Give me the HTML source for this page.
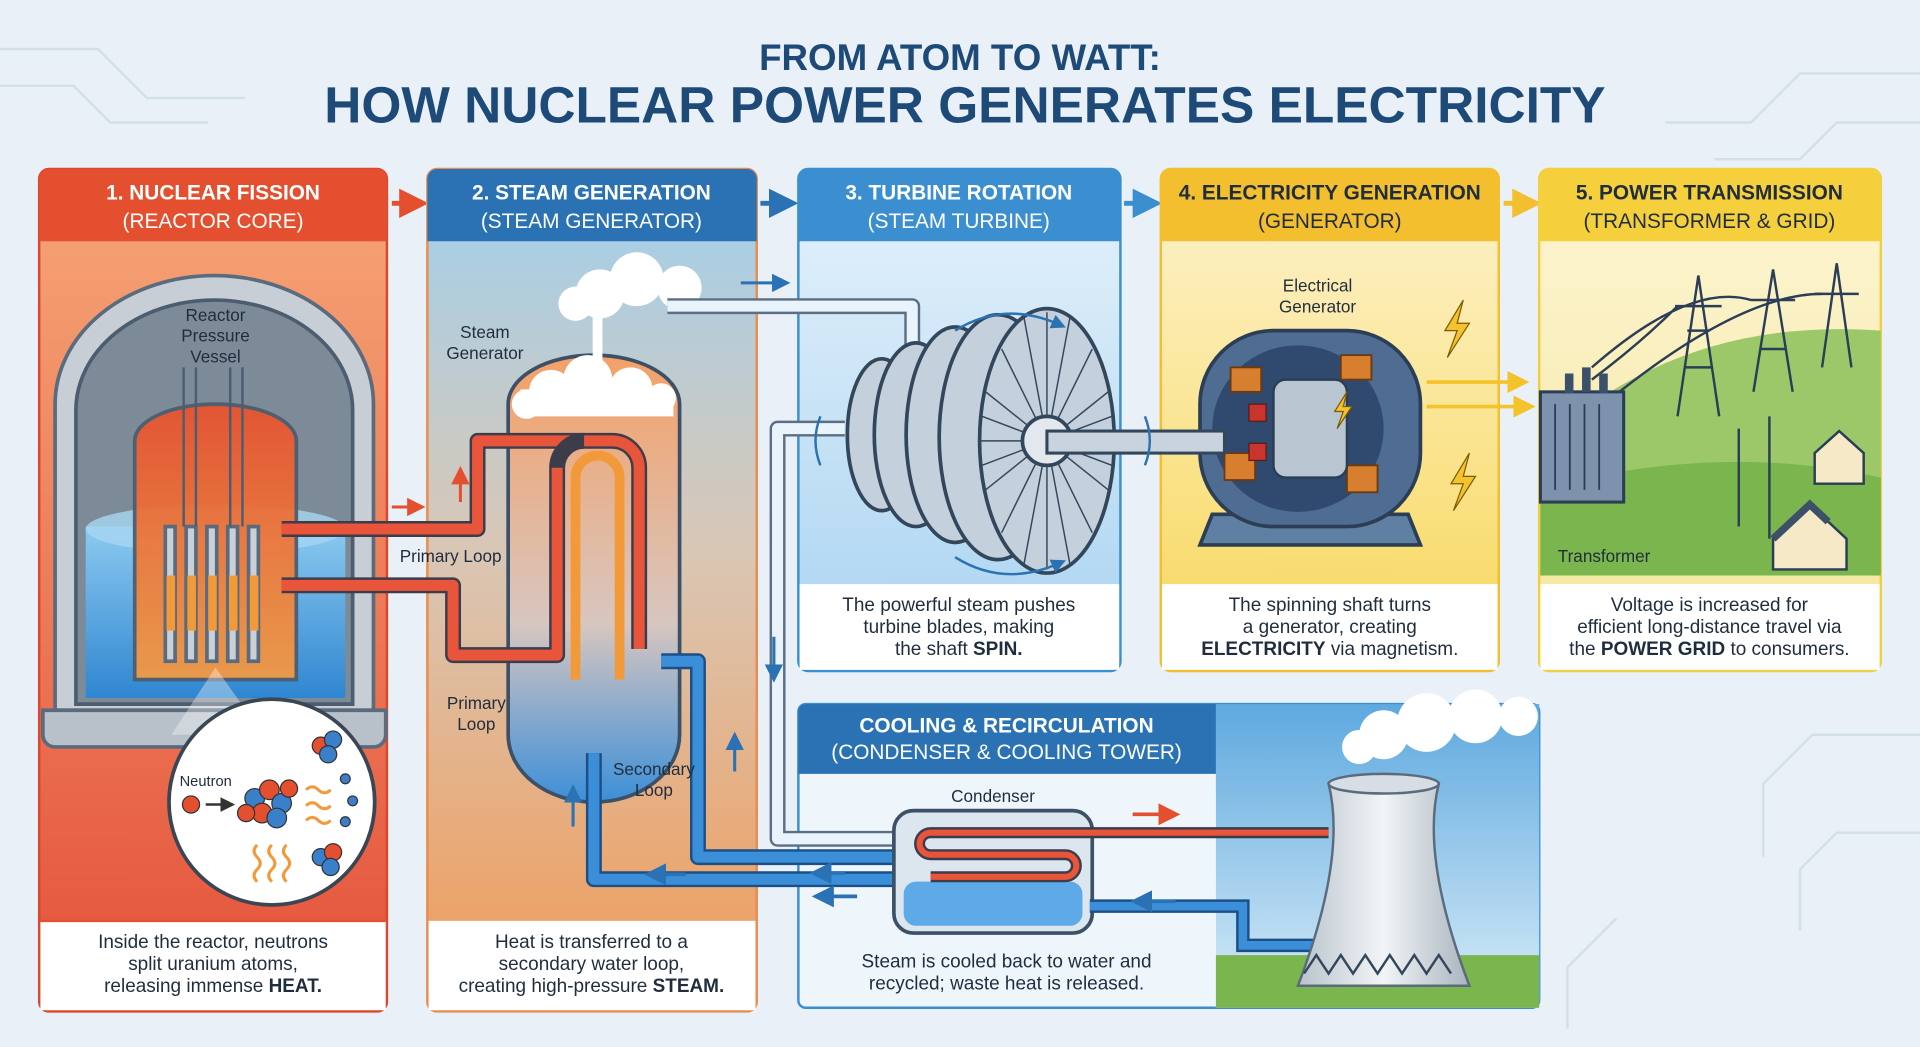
<!DOCTYPE html>
<html><head><meta charset="utf-8"><style>
html,body{margin:0;padding:0;background:#eaf1f8;}
svg{display:block}
text{font-family:"Liberation Sans",sans-serif;}
</style></head><body>
<svg width="1920" height="1047" viewBox="0 0 1568 855" xmlns="http://www.w3.org/2000/svg">
<defs>
<linearGradient id="p1" x1="0" y1="0" x2="0" y2="1"><stop offset="0" stop-color="#f6a677"/><stop offset="1" stop-color="#e4513a"/></linearGradient>
<linearGradient id="p2" x1="0" y1="0" x2="0" y2="1"><stop offset="0" stop-color="#9fd0ee"/><stop offset="0.45" stop-color="#d9c7b6"/><stop offset="1" stop-color="#f19a57"/></linearGradient>
<linearGradient id="p3" x1="0" y1="0" x2="0" y2="1"><stop offset="0" stop-color="#e6f2fb"/><stop offset="1" stop-color="#a9d3f1"/></linearGradient>
<linearGradient id="p4" x1="0" y1="0" x2="0" y2="1"><stop offset="0" stop-color="#fdf3cf"/><stop offset="1" stop-color="#f8d75a"/></linearGradient>
<linearGradient id="p5" x1="0" y1="0" x2="0" y2="1"><stop offset="0" stop-color="#fdf5d5"/><stop offset="1" stop-color="#f4e69a"/></linearGradient>
<linearGradient id="sky" x1="0" y1="0" x2="0" y2="1"><stop offset="0" stop-color="#5ea9df"/><stop offset="1" stop-color="#d8ecf8"/></linearGradient>
<linearGradient id="water" x1="0" y1="0" x2="0" y2="1"><stop offset="0" stop-color="#8ccaf0"/><stop offset="1" stop-color="#2f86d0"/></linearGradient>
<linearGradient id="core" x1="0" y1="0" x2="0" y2="1"><stop offset="0" stop-color="#e8532f"/><stop offset="1" stop-color="#f29a45"/></linearGradient>
<linearGradient id="sg" x1="0" y1="0" x2="0" y2="1"><stop offset="0" stop-color="#f4a066"/><stop offset="0.6" stop-color="#d8c6c0"/><stop offset="1" stop-color="#3c8fd8"/></linearGradient>
<linearGradient id="tow" x1="0" y1="0" x2="1" y2="0"><stop offset="0" stop-color="#b9c3cc"/><stop offset="0.5" stop-color="#f2f5f7"/><stop offset="1" stop-color="#a9b4be"/></linearGradient>
<marker id="ar" markerWidth="6" markerHeight="6" refX="3" refY="3" orient="auto"><path d="M0,0L6,3L0,6z" fill="context-stroke"/></marker>
</defs>
<rect width="1568" height="855" fill="#e9f0f7"/>
<g stroke="#d3dfea" stroke-width="2" fill="none">
<path d="M0,40 H80 L120,80 H200"/><path d="M0,70 H60 L90,100 H170"/><path d="M1568,60 H1470 L1430,100 H1360"/><path d="M1568,100 H1500 L1470,130 H1400"/>
<path d="M1568,600 H1480 L1440,640 V700"/><path d="M1568,680 H1500 L1470,710 V760"/><path d="M1280,840 V790 L1320,750"/>
</g>
<text x="784" y="57" text-anchor="middle" font-size="30" font-weight="bold" fill="#1e4a78">FROM ATOM TO WATT:</text>
<text x="788" y="100" text-anchor="middle" font-size="42" font-weight="bold" fill="#1e4a78">HOW NUCLEAR POWER GENERATES ELECTRICITY</text>

<!-- Panel 1 -->
<rect x="32" y="138" width="284" height="688" rx="8" fill="url(#p1)" stroke="#d9472e" stroke-width="2"/>
<path d="M32,197 V146 a8,8 0 0 1 8,-8 H308 a8,8 0 0 1 8,8 V197z" fill="#e4502f"/>
<text x="174" y="163" text-anchor="middle" font-size="17" font-weight="bold" fill="#fff">1. NUCLEAR FISSION</text>
<text x="174" y="186" text-anchor="middle" font-size="17" fill="#fff">(REACTOR CORE)</text>
<path d="M45,580 V330 a130,105 0 0 1 260,0 V580 Z" fill="#c8ced6" stroke="#5a6b7e" stroke-width="3"/>
<path d="M35,580 h280 v20 a10,10 0 0 1 -10,10 h-260 a10,10 0 0 1 -10,-10z" fill="#b8c0ca" stroke="#5a6b7e" stroke-width="3"/>
<path d="M62,575 V335 a113,90 0 0 1 226,0 V575 Z" fill="#7d8a98" stroke="#4d5d70" stroke-width="3"/>
<path d="M70,570 V430 H282 V570 Z" fill="url(#water)"/>
<ellipse cx="176" cy="432" rx="106" ry="20" fill="#a6d6f3" opacity="0.8"/>
<path d="M110,555 V360 a66,30 0 0 1 132,0 V555 z" fill="url(#core)" stroke="#4d5d70" stroke-width="3" opacity="0.95"/>
<g stroke="#5a6b7e" stroke-width="3" fill="#c9d0d8">
<rect x="135" y="430" width="8" height="110"/><rect x="152" y="430" width="8" height="110"/><rect x="169" y="430" width="8" height="110"/><rect x="186" y="430" width="8" height="110"/><rect x="203" y="430" width="8" height="110"/>
</g>
<g fill="#f29a3a"><rect x="136" y="470" width="7" height="45"/><rect x="153" y="470" width="7" height="45"/><rect x="170" y="470" width="7" height="45"/><rect x="187" y="470" width="7" height="45"/><rect x="204" y="470" width="7" height="45"/></g>
<g stroke="#4d5d70" stroke-width="2"><line x1="150" y1="300" x2="150" y2="430"/><line x1="160" y1="300" x2="160" y2="430"/><line x1="188" y1="300" x2="188" y2="430"/><line x1="198" y1="300" x2="198" y2="430"/></g>
<text x="176" y="262" text-anchor="middle" font-size="14" fill="#1f2d3d">Reactor</text>
<text x="176" y="279" text-anchor="middle" font-size="14" fill="#1f2d3d">Pressure</text>
<text x="176" y="296" text-anchor="middle" font-size="14" fill="#1f2d3d">Vessel</text>
<path d="M176,545 L140,600 L215,600 Z" fill="#ffffff" opacity="0.35"/>
<circle cx="222" cy="655" r="84" fill="#fff" stroke="#3a4654" stroke-width="3"/>
<text x="168" y="642" text-anchor="middle" font-size="12" fill="#1f2d3d">Neutron</text>
<circle cx="156" cy="657" r="7" fill="#e4502f" stroke="#333"/>
<path d="M168,657 H186" stroke="#333" stroke-width="2" marker-end="url(#ar)"/>
<g stroke="#333" stroke-width="1">
<circle cx="208" cy="652" r="8" fill="#3a7fc9"/><circle cx="220" cy="645" r="8" fill="#e4502f"/><circle cx="230" cy="656" r="8" fill="#3a7fc9"/><circle cx="214" cy="664" r="8" fill="#e4502f"/><circle cx="226" cy="668" r="8" fill="#3a7fc9"/><circle cx="236" cy="644" r="7" fill="#e4502f"/><circle cx="201" cy="664" r="7" fill="#e4502f"/>
<circle cx="262" cy="609" r="7" fill="#e4502f"/><circle cx="272" cy="604" r="7" fill="#3a7fc9"/><circle cx="268" cy="616" r="7" fill="#3a7fc9"/>
<circle cx="262" cy="700" r="7" fill="#3a7fc9"/><circle cx="272" cy="696" r="7" fill="#e4502f"/><circle cx="270" cy="708" r="7" fill="#3a7fc9"/>
<circle cx="282" cy="636" r="4" fill="#3a7fc9"/><circle cx="288" cy="654" r="4" fill="#3a7fc9"/><circle cx="282" cy="671" r="4" fill="#3a7fc9"/>
</g>
<g stroke="#f29a3a" stroke-width="2.5" fill="none"><path d="M250,645 q5,-5 10,0 t10,0"/><path d="M250,658 q5,-5 10,0 t10,0"/><path d="M250,670 q5,-5 10,0 t10,0"/><path d="M210,690 q-5,5 0,10 t0,10 t0,10"/><path d="M222,690 q-5,5 0,10 t0,10 t0,10"/><path d="M234,690 q-5,5 0,10 t0,10 t0,10"/></g>
<rect x="33" y="752" width="282" height="73" fill="#fff"/>
<line x1="33" y1="752" x2="315" y2="752" stroke="#e4502f" stroke-width="2"/>
<text x="174" y="774" text-anchor="middle" font-size="15.5" fill="#1f2d3d">Inside the reactor, neutrons</text>
<text x="174" y="792" text-anchor="middle" font-size="15.5" fill="#1f2d3d">split uranium atoms,</text>
<text x="174" y="810" text-anchor="middle" font-size="15.5" fill="#1f2d3d">releasing immense <tspan font-weight="bold">HEAT.</tspan></text>
<path d="M320,166 H338" stroke="#e4502f" stroke-width="4" marker-end="url(#ar)"/>

<!-- Panel 2 -->
<rect x="349" y="138" width="269" height="688" rx="8" fill="url(#p2)" stroke="#e88d4e" stroke-width="2"/>
<path d="M349,197 V146 a8,8 0 0 1 8,-8 H610 a8,8 0 0 1 8,8 V197z" fill="#2a72b3"/>
<text x="483" y="163" text-anchor="middle" font-size="17" font-weight="bold" fill="#fff">2. STEAM GENERATION</text>
<text x="483" y="186" text-anchor="middle" font-size="17" fill="#fff">(STEAM GENERATOR)</text>
<text x="396" y="276" text-anchor="middle" font-size="14" fill="#1f2d3d">Steam</text>
<text x="396" y="293" text-anchor="middle" font-size="14" fill="#1f2d3d">Generator</text>
<path d="M415,600 V330 a70,40 0 0 1 140,0 V600 a70,55 0 0 1 -140,0z" fill="url(#sg)" stroke="#3c5068" stroke-width="3"/>
<g fill="#fff"><circle cx="450" cy="320" r="18"/><circle cx="480" cy="310" r="20"/><circle cx="515" cy="318" r="18"/><circle cx="540" cy="325" r="12"/><circle cx="430" cy="330" r="12"/><rect x="425" y="318" width="125" height="22"/>
<circle cx="490" cy="240" r="20"/><circle cx="520" cy="228" r="22"/><circle cx="555" cy="235" r="18"/><circle cx="470" cy="248" r="14"/></g>
<path d="M488,300 V255" stroke="#fff" stroke-width="8"/>
<text x="368" y="459" text-anchor="middle" font-size="14" fill="#1f2d3d">Primary Loop</text>
<text x="389" y="579" text-anchor="middle" font-size="14" fill="#1f2d3d">Primary</text>
<text x="389" y="596" text-anchor="middle" font-size="14" fill="#1f2d3d">Loop</text>
<rect x="350" y="752" width="267" height="73" fill="#fff"/>
<text x="483" y="774" text-anchor="middle" font-size="15.5" fill="#1f2d3d">Heat is transferred to a</text>
<text x="483" y="792" text-anchor="middle" font-size="15.5" fill="#1f2d3d">secondary water loop,</text>
<text x="483" y="810" text-anchor="middle" font-size="15.5" fill="#1f2d3d">creating high-pressure <tspan font-weight="bold">STEAM.</tspan></text>
<path d="M621,166 H640" stroke="#2a72b3" stroke-width="4" marker-end="url(#ar)"/>

<!-- Panel 3 -->
<rect x="652" y="138" width="263" height="410" rx="8" fill="url(#p3)" stroke="#3a8fd0" stroke-width="2"/>
<path d="M652,197 V146 a8,8 0 0 1 8,-8 H907 a8,8 0 0 1 8,8 V197z" fill="#3b8fd0"/>
<text x="783" y="163" text-anchor="middle" font-size="17" font-weight="bold" fill="#fff">3. TURBINE ROTATION</text>
<text x="783" y="186" text-anchor="middle" font-size="17" fill="#fff">(STEAM TURBINE)</text>
<rect x="653" y="477" width="261" height="70" fill="#fff"/>
<text x="783" y="499" text-anchor="middle" font-size="15.5" fill="#1f2d3d">The powerful steam pushes</text>
<text x="783" y="517" text-anchor="middle" font-size="15.5" fill="#1f2d3d">turbine blades, making</text>
<text x="783" y="535" text-anchor="middle" font-size="15.5" fill="#1f2d3d">the shaft <tspan font-weight="bold">SPIN.</tspan></text>
<path d="M918,166 H937" stroke="#3b8fd0" stroke-width="4" marker-end="url(#ar)"/>

<!-- Panel 4 -->
<rect x="948" y="138" width="276" height="410" rx="8" fill="url(#p4)" stroke="#f2bf2e" stroke-width="2"/>
<path d="M948,197 V146 a8,8 0 0 1 8,-8 H1216 a8,8 0 0 1 8,8 V197z" fill="#f4bf2f"/>
<text x="1086" y="163" text-anchor="middle" font-size="17" font-weight="bold" fill="#1f2d3d">4. ELECTRICITY GENERATION</text>
<text x="1086" y="186" text-anchor="middle" font-size="17" fill="#1f2d3d">(GENERATOR)</text>
<text x="1076" y="238" text-anchor="middle" font-size="14" fill="#1f2d3d">Electrical</text>
<text x="1076" y="255" text-anchor="middle" font-size="14" fill="#1f2d3d">Generator</text>
<path d="M990,420 h160 l10,25 h-180z" fill="#5f7fa3" stroke="#2c3e55" stroke-width="3"/>
<rect x="980" y="270" width="180" height="160" rx="60" fill="#4f6d93" stroke="#2c3e55" stroke-width="3"/>
<ellipse cx="1060" cy="350" rx="70" ry="68" fill="#2f4a6e"/>
<g fill="#d77f2f" stroke="#6b3a10" stroke-width="1.5"><rect x="1005" y="300" width="25" height="20"/><rect x="1000" y="370" width="25" height="22"/><rect x="1095" y="290" width="25" height="20"/><rect x="1100" y="380" width="25" height="22"/></g>
<g fill="#c9352c" stroke="#5a1a14"><rect x="1020" y="330" width="14" height="14"/><rect x="1020" y="362" width="14" height="14"/><rect x="1085" y="325" width="14" height="14"/></g>
<rect x="1040" y="310" width="60" height="80" rx="10" fill="#b9c6d2" stroke="#2c3e55" stroke-width="2"/>
<g fill="#f4c22a" stroke="#7a5a08" stroke-width="1"><path d="M1195,245 l-15,25 h10 l-8,22 l18,-28 h-10z"/><path d="M1200,370 l-15,25 h10 l-8,22 l18,-28 h-10z"/><path d="M1100,320 l-10,16 h7 l-5,14 l12,-18 h-7z"/></g>
<g fill="none" stroke-width="3"><path d="M1165,312 H1240" stroke="#f4c22a" marker-end="url(#ar)"/><path d="M1165,332 H1245" stroke="#f4c22a" marker-end="url(#ar)"/></g>
<rect x="949" y="477" width="274" height="70" fill="#fff"/>
<text x="1086" y="499" text-anchor="middle" font-size="15.5" fill="#1f2d3d">The spinning shaft turns</text>
<text x="1086" y="517" text-anchor="middle" font-size="15.5" fill="#1f2d3d">a generator, creating</text>
<text x="1086" y="535" text-anchor="middle" font-size="15.5" fill="#1f2d3d"><tspan font-weight="bold">ELECTRICITY</tspan> via magnetism.</text>
<path d="M1228,166 H1247" stroke="#f4bf2f" stroke-width="4" marker-end="url(#ar)"/>

<!-- Panel 5 -->
<rect x="1257" y="138" width="279" height="410" rx="8" fill="url(#p5)" stroke="#f2cf3e" stroke-width="2"/>
<path d="M1257,197 V146 a8,8 0 0 1 8,-8 H1528 a8,8 0 0 1 8,8 V197z" fill="#f6d03c"/>
<text x="1396" y="163" text-anchor="middle" font-size="17" font-weight="bold" fill="#1f2d3d">5. POWER TRANSMISSION</text>
<text x="1396" y="186" text-anchor="middle" font-size="17" fill="#1f2d3d">(TRANSFORMER &amp; GRID)</text>
<path d="M1300,330 Q1400,260 1536,270 V470 H1258 V330z" fill="#9cc86a"/>
<path d="M1258,400 Q1400,360 1536,390 V470 H1258z" fill="#7ab54d"/>
<g stroke="#2c3e55" stroke-width="2" fill="none">
<path d="M1370,340 L1387,225 L1404,340 M1375,300 H1399 M1378,270 H1396 M1368,250 H1406"/>
<path d="M1432,320 L1448,220 L1464,320 M1437,285 H1459 M1430,245 H1466"/>
<path d="M1488,300 L1500,215 L1512,300 M1482,240 H1518"/>
<path d="M1300,310 Q1340,280 1370,250 M1300,300 Q1380,230 1430,245 M1310,330 Q1420,240 1488,240"/>
<path d="M1445,340 V440 M1420,350 V430"/>
</g>
<rect x="1258" y="320" width="68" height="90" fill="#7d93ad" stroke="#2c3e55" stroke-width="2.5"/>
<g stroke="#2c3e55" stroke-width="1.5"><line x1="1270" y1="330" x2="1270" y2="400"/><line x1="1282" y1="330" x2="1282" y2="400"/><line x1="1294" y1="330" x2="1294" y2="400"/><line x1="1306" y1="330" x2="1306" y2="400"/></g>
<g fill="#3c5068"><rect x="1278" y="305" width="7" height="16"/><rect x="1292" y="300" width="7" height="20"/><rect x="1306" y="305" width="7" height="16"/></g>
<path d="M1482,370 l20,-18 l20,18 v25 h-40z" fill="#f5e9c8" stroke="#2c3e55" stroke-width="2"/>
<path d="M1448,440 l30,-28 l30,28 v25 h-60z" fill="#f5e9c8" stroke="#2c3e55" stroke-width="2"/>
<path d="M1448,440 l30,-28 l15,14" fill="none" stroke="#3c5068" stroke-width="6"/>
<text x="1310" y="459" text-anchor="middle" font-size="14" fill="#1f2d3d">Transformer</text>
<rect x="1258" y="477" width="277" height="70" fill="#fff"/>
<text x="1396" y="499" text-anchor="middle" font-size="15.5" fill="#1f2d3d">Voltage is increased for</text>
<text x="1396" y="517" text-anchor="middle" font-size="15.5" fill="#1f2d3d">efficient long-distance travel via</text>
<text x="1396" y="535" text-anchor="middle" font-size="15.5" fill="#1f2d3d">the <tspan font-weight="bold">POWER GRID</tspan> to consumers.</text>

<!-- Cooling panel -->
<rect x="652" y="575" width="605" height="248" rx="6" fill="#eef6fc" stroke="#3a8fd0" stroke-width="2"/>
<rect x="993" y="575" width="264" height="248" fill="url(#sky)"/>
<rect x="993" y="780" width="264" height="43" fill="#7ab54d"/>
<path d="M652,632 V581 a6,6 0 0 1 6,-6 H993 V632z" fill="#2a72b3"/>
<text x="822" y="598" text-anchor="middle" font-size="17" font-weight="bold" fill="#fff">COOLING &amp; RECIRCULATION</text>
<text x="822" y="620" text-anchor="middle" font-size="17" fill="#fff">(CONDENSER &amp; COOLING TOWER)</text>
<g fill="#fff"><circle cx="1130" cy="600" r="20"/><circle cx="1165" cy="590" r="24"/><circle cx="1205" cy="585" r="22"/><circle cx="1240" cy="585" r="16"/><circle cx="1110" cy="610" r="14"/></g>
<text x="811" y="655" text-anchor="middle" font-size="14" fill="#1f2d3d">Condenser</text>

<!-- PIPES (drawn on top of panels) -->
<g fill="none" stroke-linejoin="round">
<path d="M230,432 H390 V360 H500 a22,22 0 0 1 22,22 V530" stroke="#3c3c4a" stroke-width="13"/>
<path d="M230,432 H390 V360 H500 a22,22 0 0 1 22,22 V530" stroke="#e8553a" stroke-width="9"/>
<path d="M230,478 H370 V535 H455 V382 a22,22 0 0 1 22,-22" stroke="#3c3c4a" stroke-width="13"/>
<path d="M230,478 H370 V535 H455 V382" stroke="#e8553a" stroke-width="9"/>
<path d="M470,555 V390 a18,18 0 0 1 36,0 V555" stroke="#f29a3a" stroke-width="8"/>
<path d="M485,615 V718 H740" stroke="#1c4f86" stroke-width="13"/>
<path d="M485,615 V718 H740" stroke="#3a8fd8" stroke-width="9"/>
<path d="M540,540 H570 V700 H740" stroke="#1c4f86" stroke-width="13"/>
<path d="M540,540 H570 V700 H740" stroke="#3a8fd8" stroke-width="9"/>
<path d="M545,250 H745 V295" stroke="#5b6e84" stroke-width="13"/>
<path d="M545,250 H745 V295" stroke="#e9f3fb" stroke-width="9"/>
<path d="M690,350 H635 V685 H735" stroke="#5b6e84" stroke-width="13"/>
<path d="M690,350 H635 V685 H735" stroke="#e9f3fb" stroke-width="9"/>
</g>
<g stroke="#e4502f" stroke-width="2.5"><path d="M320,414 H340" marker-end="url(#ar)"/><path d="M376,410 V388" marker-end="url(#ar)"/></g>
<g stroke="#2a72b3" stroke-width="2.5"><path d="M468,675 V648" marker-end="url(#ar)"/><path d="M600,630 V605" marker-end="url(#ar)"/><path d="M605,231 H638" marker-end="url(#ar)"/><path d="M632,520 V550" marker-end="url(#ar)"/></g>
<text x="534" y="633" text-anchor="middle" font-size="14" fill="#1f2d3d">Secondary</text>
<text x="534" y="650" text-anchor="middle" font-size="14" fill="#1f2d3d">Loop</text>

<!-- turbine (on top of pipes) -->
<g stroke="#33475c" stroke-width="3" fill="#c4d0dc">
<ellipse cx="720" cy="355" rx="28" ry="62"/><ellipse cx="748" cy="355" rx="34" ry="75"/><ellipse cx="780" cy="355" rx="40" ry="88"/><ellipse cx="815" cy="357" rx="48" ry="100"/><ellipse cx="855" cy="360" rx="55" ry="108"/>
</g>
<g stroke="#33475c" stroke-width="1.2" fill="none">
<path d="M855,255 V465 M800,360 H910 M818,285 L892,435 M892,285 L818,435 M805,320 L905,400 M905,320 L805,400 M836,258 L874,462 M874,258 L836,462 M802,340 L908,380 M908,340 L802,380"/>
</g>
<circle cx="855" cy="360" r="20" fill="#e2e8ee" stroke="#33475c" stroke-width="3"/>
<rect x="855" y="352" width="145" height="18" fill="#c9d3dd" stroke="#33475c" stroke-width="2.5"/>
<g stroke="#2a72b3" stroke-width="2" fill="none"><path d="M780,270 q40,-25 85,-5" marker-end="url(#ar)"/><path d="M780,455 q40,25 85,5" marker-end="url(#ar)"/><path d="M670,340 q-8,20 0,40"/><path d="M935,340 q8,20 0,40"/></g>

<!-- condenser -->
<rect x="730" y="662" width="162" height="100" rx="16" fill="#dbe6ef" stroke="#3c5068" stroke-width="3"/>
<rect x="738" y="720" width="146" height="36" rx="10" fill="#5eaae8"/>
<g fill="none"><path d="M1085,680 H760 a9,9 0 0 0 0,18 H870 a9,9 0 0 1 0,18 H760" stroke="#3c3c4a" stroke-width="9"/><path d="M1085,680 H760 a9,9 0 0 0 0,18 H870 a9,9 0 0 1 0,18 H760" stroke="#e8553a" stroke-width="5"/>
<path d="M890,740 H1015 V772 H1080" stroke="#1c4f86" stroke-width="11"/><path d="M890,740 H1015 V772 H1080" stroke="#3a8fd8" stroke-width="7"/></g>
<g stroke="#e4502f" stroke-width="3"><path d="M925,665 H955" marker-end="url(#ar)"/></g>
<g stroke="#2a72b3" stroke-width="3"><path d="M960,736 H932" marker-end="url(#ar)"/><path d="M700,732 H672" marker-end="url(#ar)"/><path d="M560,714 H535" marker-end="url(#ar)"/><path d="M690,713 H670" marker-end="url(#ar)"/></g>
<path d="M1085,640 Q1100,700 1060,805 H1200 Q1160,700 1175,640z" fill="url(#tow)" stroke="#5a6b7e" stroke-width="2"/>
<ellipse cx="1130" cy="640" rx="45" ry="8" fill="#d6dde4" stroke="#5a6b7e" stroke-width="2"/>
<path d="M1065,795 l10,-15 l10,15 l10,-15 l10,15 l10,-15 l10,15 l10,-15 l10,15 l10,-15 l10,15 l10,-15 l10,15" fill="none" stroke="#33475c" stroke-width="2"/>
<text x="822" y="790" text-anchor="middle" font-size="15.5" fill="#1f2d3d">Steam is cooled back to water and</text>
<text x="822" y="808" text-anchor="middle" font-size="15.5" fill="#1f2d3d">recycled; waste heat is released.</text>
</svg>
</body></html>
